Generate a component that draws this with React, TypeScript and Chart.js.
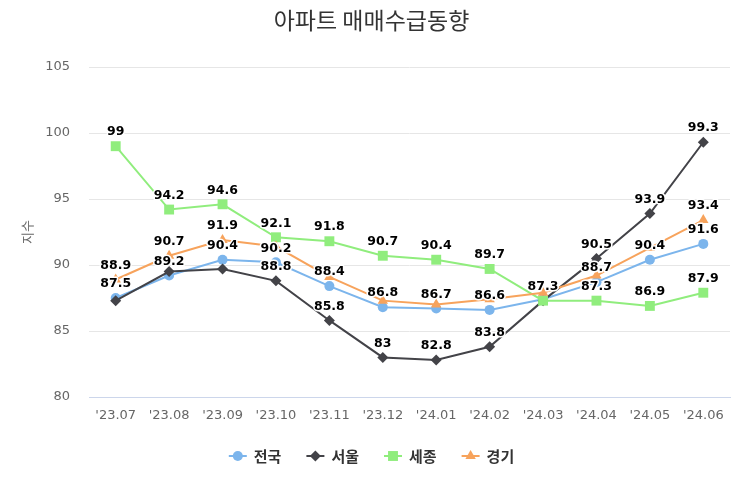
import React, { useEffect, useRef } from "react";
import { Chart, registerables } from "chart.js";

Chart.register(...registerables);

const TITLE = "아파트 매매수급동향";
const Y_TITLE = "지수";

const categories = ["'23.07", "'23.08", "'23.09", "'23.10", "'23.11", "'23.12", "'24.01", "'24.02", "'24.03", "'24.04", "'24.05", "'24.06"];

const seriesNames = ["전국", "서울", "세종", "경기"];

const nationwide = [87.5, 89.2, 90.4, 90.2, 88.4, 86.8, 86.7, 86.6, 87.4, 88.7, 90.4, 91.6];
const seoul = [87.3, 89.5, 89.7, 88.8, 85.8, 83, 82.8, 83.8, 87.3, 90.5, 93.9, 99.3];
const sejong = [99, 94.2, 94.6, 92.1, 91.8, 90.7, 90.4, 89.7, 87.3, 87.3, 86.9, 87.9];
const gyeonggi = [88.9, 90.7, 91.9, 91.4, 89.1, 87.3, 87.0, 87.4, 87.9, 89.2, 91.3, 93.4];

// indices of points whose value label is not shown in the reference
const hiddenNationwide = [8];
const hiddenSeoul = [0, 1, 2, 8];
const hiddenSejong: number[] = [];
const hiddenGyeonggi = [3, 4, 5, 6, 7, 8, 9, 10];

const Y_MIN = 80;
const Y_MAX = 105;
const Y_STEP = 5;

const COLORS = ["#7cb5ec", "#434348", "#90ed7d", "#f7a35c"];
const STYLES = ["circle", "rectRot", "rect", "triangle"];
const RADII = [5, 5.5, 7, 6];

function drawMarker(ctx: CanvasRenderingContext2D, style: string, x: number, y: number, r: number, color: string) {
  ctx.save();
  ctx.fillStyle = color;
  ctx.beginPath();
  if (style === "circle") {
    ctx.arc(x, y, r, 0, Math.PI * 2);
  } else if (style === "rectRot") {
    ctx.moveTo(x, y - r);
    ctx.lineTo(x + r, y);
    ctx.lineTo(x, y + r);
    ctx.lineTo(x - r, y);
    ctx.closePath();
  } else if (style === "rect") {
    const s = r * Math.SQRT1_2;
    ctx.rect(x - s, y - s, 2 * s, 2 * s);
  } else {
    const a = (Math.PI * 2) / 3;
    ctx.moveTo(x, y - r);
    ctx.lineTo(x + r * Math.sin(a), y - r * Math.cos(a));
    ctx.lineTo(x - r * Math.sin(a), y - r * Math.cos(a));
    ctx.closePath();
  }
  ctx.fill();
  ctx.restore();
}

const overlayPlugin = {
  id: "overlay",
  afterDatasetsDraw(chart: any) {
    const ctx: CanvasRenderingContext2D = chart.ctx;
    const hiddenLists = [hiddenNationwide, hiddenSeoul, hiddenSejong, hiddenGyeonggi];
    ctx.save();
    ctx.font = "bold 12.5px 'DejaVu Sans'";
    ctx.textAlign = "center";
    ctx.textBaseline = "middle";
    ctx.lineJoin = "round";
    chart.data.datasets.forEach((ds: any, di: number) => {
      const meta = chart.getDatasetMeta(di);
      const hidden = hiddenLists[di];
      meta.data.forEach((pt: any, i: number) => {
        if (hidden.includes(i)) return;
        const txt = String(ds.data[i]);
        const x = pt.x;
        const y = pt.y - 14;
        ctx.strokeStyle = "#ffffff";
        ctx.lineWidth = 3;
        ctx.strokeText(txt, x, y);
        ctx.fillStyle = "#000000";
        ctx.fillText(txt, x, y);
      });
    });
    ctx.restore();
  },
  afterDraw(chart: any) {
    const ctx: CanvasRenderingContext2D = chart.ctx;
    const W = chart.width;
    // title
    ctx.save();
    ctx.font = "23px 'Noto Sans CJK KR'";
    ctx.fillStyle = "#333333";
    ctx.textAlign = "center";
    ctx.textBaseline = "middle";
    ctx.fillText(TITLE, W / 2, 20);
    ctx.restore();

    // legend
    ctx.save();
    ctx.font = "bold 15px 'Noto Sans CJK KR'";
    ctx.textBaseline = "middle";
    ctx.textAlign = "left";
    const symW = 18;
    const gap = 7;
    const itemGap = 25;
    const widths = seriesNames.map((n) => symW + gap + ctx.measureText(n).width);
    const total = widths.reduce((a, b) => a + b, 0) + itemGap * (seriesNames.length - 1);
    let x = (W - total) / 2;
    const y = 456;
    seriesNames.forEach((n, i) => {
      ctx.strokeStyle = COLORS[i];
      ctx.lineWidth = 2;
      ctx.beginPath();
      ctx.moveTo(x, y);
      ctx.lineTo(x + symW, y);
      ctx.stroke();
      drawMarker(ctx, STYLES[i], x + symW / 2, y, RADII[i], COLORS[i]);
      ctx.fillStyle = "#333333";
      ctx.fillText(n, x + symW + gap, y);
      x += widths[i] + itemGap;
    });
    ctx.restore();
  },
};

export default function App() {
  const ref = useRef<HTMLCanvasElement | null>(null);
  useEffect(() => {
    document.body.style.margin = "0";
    const canvas = ref.current;
    if (!canvas) return;
    const seriesData = [nationwide, seoul, sejong, gyeonggi];
    const chart = new Chart(canvas, {
      type: "line",
      data: {
        labels: categories,
        datasets: seriesData.map((d, i) => ({
          label: seriesNames[i],
          data: d,
          borderColor: COLORS[i],
          backgroundColor: COLORS[i],
          borderWidth: 2,
          pointStyle: STYLES[i] as any,
          pointRadius: RADII[i],
          pointBackgroundColor: COLORS[i],
          pointBorderColor: COLORS[i],
          pointBorderWidth: 0,
          tension: 0,
          fill: false,
          order: 4 - i,
        })),
      },
      options: {
        responsive: false,
        animation: false,
        events: [],
        layout: { padding: { top: 67, right: 13, left: 0, bottom: 0 } },
        plugins: {
          legend: { display: false },
          title: { display: false },
          tooltip: { enabled: false },
        },
        scales: {
          x: {
            type: "category",
            offset: true,
            grid: { display: false, drawTicks: false },
            border: { display: true, color: "#ccd6eb", width: 1 },
            ticks: {
              color: "#666666",
              font: { family: "'DejaVu Sans'", size: 13 },
              padding: 11,
              maxRotation: 0,
              autoSkip: false,
            },
            afterFit: (s: any) => {
              s.height = 98;
            },
          },
          y: {
            min: Y_MIN,
            max: Y_MAX,
            ticks: {
              stepSize: Y_STEP,
              color: "#666666",
              font: { family: "'DejaVu Sans'", size: 13 },
              padding: 19,
            },
            grid: { color: "#e6e6e6", drawTicks: false },
            border: { display: false },
            title: {
              display: true,
              text: Y_TITLE,
              color: "#666666",
              font: { family: "'Noto Sans CJK KR'", size: 13 },
              padding: { top: 19, bottom: 0 },
            },
            afterFit: (s: any) => {
              s.width = 89;
            },
          },
        },
      },
      plugins: [overlayPlugin],
    });
    return () => chart.destroy();
  }, []);
  return <canvas ref={ref} width={743} height={495} style={{ display: "block" }} />;
}
